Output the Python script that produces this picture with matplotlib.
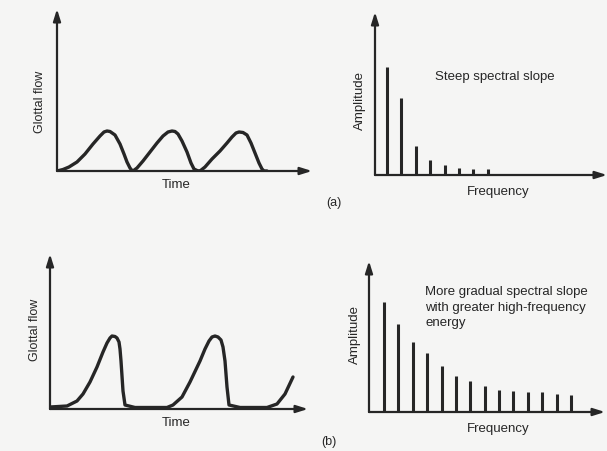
import matplotlib
matplotlib.use("Agg")
import matplotlib.pyplot as plt

plt.rcParams['font.family'] = ['Liberation Sans', 'DejaVu Sans']

# ---------------- data ----------------
# (a) glottal flow: time (arbitrary units) and flow
time_a = [0, 6, 12, 20, 28, 36, 43, 47, 50, 53, 58, 63, 67, 70, 73, 75, 76,
          80, 86, 93, 100, 106, 111, 115, 118, 121, 125, 130, 134, 137, 140, 142, 143,
          148, 155, 163, 170, 175, 179, 182, 186, 190, 194, 198, 202, 205, 207, 210]
flow_a = [0, 1.5, 4, 9, 17, 27, 35, 39, 40, 39.5, 36, 27, 17, 9, 3, 0.5, 0,
          3, 10, 19, 28, 35, 39, 40, 39.5, 37, 30, 19, 8, 2, 0.5, 0, 0,
          4, 12, 20, 28, 34, 38, 39, 38.5, 36, 28, 18, 8, 2, 0, 0]

# (a) spectrum: harmonic number and amplitude
harm_a = [1, 2, 3, 4, 5, 6, 7, 8]
amp_a = [108, 77, 29, 15, 10, 7, 6, 6]

# (b) glottal flow
time_b = [0, 17, 27, 33, 40, 47, 53, 57, 60, 62, 65, 67, 69, 70, 71, 72, 73, 75, 85,
          117, 123, 132, 140, 150, 155, 159, 162, 165, 168, 171, 173, 175, 176, 177, 179, 190,
          217, 227, 235, 243]
flow_b = [2, 3, 8, 15, 27, 42, 57, 66, 71, 73, 72.5, 71, 67, 60, 48, 33, 18, 4, 1.5,
          1.5, 4, 12, 27, 48, 60, 68, 72, 73, 72, 69, 62, 48, 35, 22, 4, 1.5,
          1.5, 5, 15, 32]

# (b) spectrum
harm_b = list(range(1, 15))
amp_b = [110, 88, 70, 59, 46, 36, 31, 26, 22, 21, 20, 20, 18, 17]

# labels
ylab_flow = "Glottal flow"
ylab_amp = "Amplitude"
xlab_time = "Time"
xlab_freq = "Frequency"
note_a = "Steep spectral slope"
note_b = "More gradual spectral slope\nwith greater high-frequency\nenergy"
tag_a = "(a)"
tag_b = "(b)"

# ---------------- figure ----------------
W, H = 607, 452
BG = '#f5f5f4'
INK = '#262626'
fig = plt.figure(figsize=(W / 100, H / 100), dpi=100, facecolor=BG)


def px_axes(x0, y0, x1, y1):
    """axes from origin pixel (x0,y0) to arrow tips (x1 right, y1 top)."""
    ax = fig.add_axes([x0 / W, 1 - y0 / H, (x1 - x0) / W, (y0 - y1) / H])
    ax.set_facecolor('none')
    for s in ax.spines.values():
        s.set_visible(False)
    ax.set_xticks([])
    ax.set_yticks([])
    arrow = dict(arrowstyle='-|>,head_length=0.7,head_width=0.22', color=INK,
                 lw=1.6, shrinkA=0, shrinkB=0)
    ax.annotate('', xy=(1, 0), xytext=(0, 0), xycoords='axes fraction',
                arrowprops=arrow)
    ax.annotate('', xy=(0, 1), xytext=(0, 0), xycoords='axes fraction',
                arrowprops=arrow)
    return ax


def ftext(x, y, s, **kw):
    kw.setdefault('color', INK)
    kw.setdefault('fontsize', 9.5)
    fig.text(x / W, 1 - y / H, s, **kw)


# (a) left
ax1 = px_axes(57, 172, 312, 10)
ax1.set_xlim(0, 255)
ax1.set_ylim(0, 162)
ax1.plot(time_a, flow_a, color=INK, lw=2.4, solid_joinstyle='round',
         solid_capstyle='round')

# (a) right
ax2 = px_axes(375, 176, 607, 13)
ax2.set_xlim(0.167, 0.167 + 232 / 14.4)
ax2.set_ylim(0, 163)
ax2.vlines(harm_a, 0, amp_a, color=INK, lw=2.2)

# (b) left
ax3 = px_axes(50, 410, 308, 255)
ax3.set_xlim(0, 258)
ax3.set_ylim(0, 155)
ax3.plot(time_b, flow_b, color=INK, lw=2.4, solid_joinstyle='round',
         solid_capstyle='round')

# (b) right
ax4 = px_axes(369, 413, 605, 262)
ax4.set_xlim(-0.043, -0.043 + 236 / 14.38)
ax4.set_ylim(0, 151)
ax4.vlines(harm_b, 0, amp_b, color=INK, lw=2.2)

# texts
ftext(40, 102, ylab_flow, rotation=90, ha='center', va='center', fontsize=9)
ftext(35, 330, ylab_flow, rotation=90, ha='center', va='center', fontsize=9)
ftext(360, 100, ylab_amp, rotation=90, ha='center', va='center', fontsize=9.5)
ftext(355, 335, ylab_amp, rotation=90, ha='center', va='center', fontsize=9.5)
ftext(176, 185, xlab_time, ha='center', va='center')
ftext(176, 423, xlab_time, ha='center', va='center')
ftext(498, 192, xlab_freq, ha='center', va='center')
ftext(498, 429, xlab_freq, ha='center', va='center')
ftext(435, 77, note_a, ha='left', va='center')
ftext(425, 286, note_b, ha='left', va='top', linespacing=1.4)
ftext(334, 203, tag_a, ha='center', va='center', fontsize=9)
ftext(329, 442, tag_b, ha='center', va='center', fontsize=9)

fig.savefig('out.png', dpi=100, facecolor=BG)
